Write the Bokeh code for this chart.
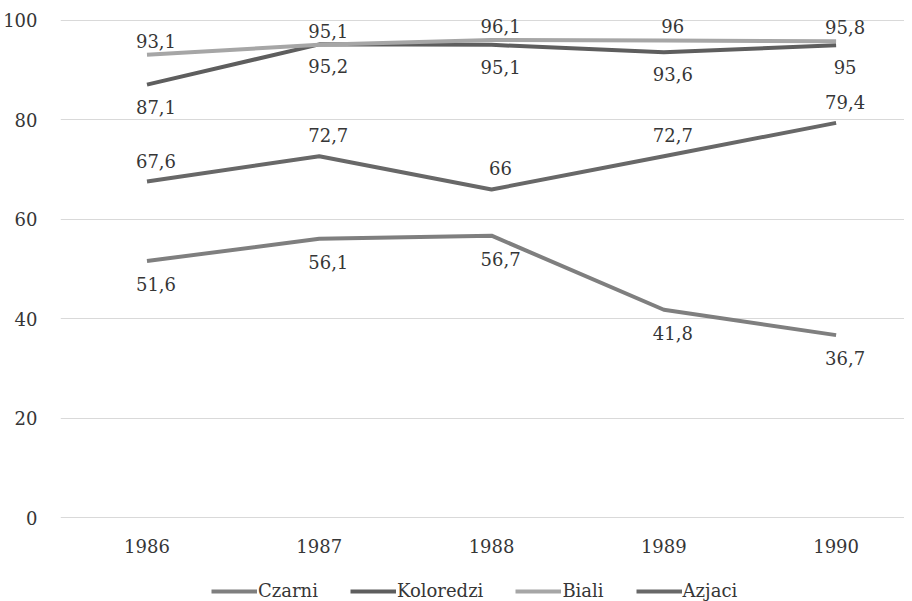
from bokeh.plotting import figure
from bokeh.models import ColumnDataSource, Range1d, FixedTicker, Legend, LegendItem
from bokeh.core.properties import value
from bokeh.embed import file_html
from bokeh.resources import INLINE

years = [1986, 1987, 1988, 1989, 1990]
czarni = [51.6, 56.1, 56.7, 41.8, 36.7]
koloredzi = [87.1, 95.2, 95.1, 93.6, 95.0]
biali = [93.1, 95.1, 96.1, 96.0, 95.8]
azjaci = [67.6, 72.7, 66.0, 72.7, 79.4]
y_ticks = [0, 20, 40, 60, 80, 100]

series = [
    ("Czarni", czarni, "#7f7f7f", 23),
    ("Koloredzi", koloredzi, "#5e5e5e", 22),
    ("Biali", biali, "#a6a6a6", -14),
    ("Azjaci", azjaci, "#686868", -21),
]

FONT = "DejaVu Serif"
TXT = "#363636"

p = figure(width=904, height=601, output_backend="svg", toolbar_location=None,
           x_range=Range1d(1985.498, 1990.397), y_range=Range1d(-16.90, 102.414),
           min_border_left=55, min_border_right=0, min_border_top=8, min_border_bottom=0)
p.outline_line_color = None
p.background_fill_color = "white"
p.border_fill_color = "white"

p.xaxis.ticker = FixedTicker(ticks=years)
p.xaxis.fixed_location = 0
p.yaxis.ticker = FixedTicker(ticks=y_ticks)
for ax in (p.xaxis, p.yaxis):
    ax.axis_line_color = None
    ax.major_tick_line_color = None
    ax.minor_tick_line_color = None
    ax.major_label_text_font = FONT
    ax.major_label_text_font_size = "18px"
    ax.major_label_text_color = TXT
p.xaxis.major_label_standoff = 15
p.yaxis.major_label_standoff = 17
p.xgrid.grid_line_color = None
p.ygrid.grid_line_color = "#d9d9d9"
p.ygrid.grid_line_width = 1

items = []
for name, vals, color, off in series:
    src = ColumnDataSource(dict(x=years, y=vals))
    r = p.line("x", "y", source=src, line_color=color, line_width=4,
               line_join="round", line_cap="butt")
    items.append(LegendItem(label=name, renderers=[r]))

for name, vals, color, off in series:
    src = ColumnDataSource(dict(x=years, y=vals,
                                lab=[f"{v:g}".replace(".", ",") for v in vals]))
    p.text("x", "y", text="lab", source=src, text_font=value(FONT),
           text_font_size="18px", text_color=TXT, text_align="center",
           text_baseline="middle", x_offset=9, y_offset=off)

legend = Legend(items=items, orientation="horizontal", location=(151, 0),
                padding=0, margin=0, spacing=32, glyph_width=46, glyph_height=20,
                label_standoff=1, label_height=20,
                border_line_color=None, background_fill_alpha=0,
                label_text_font=FONT, label_text_font_size="18px",
                label_text_color=TXT)
p.add_layout(legend, "center")

open("out.html", "w").write(file_html(p, INLINE))
